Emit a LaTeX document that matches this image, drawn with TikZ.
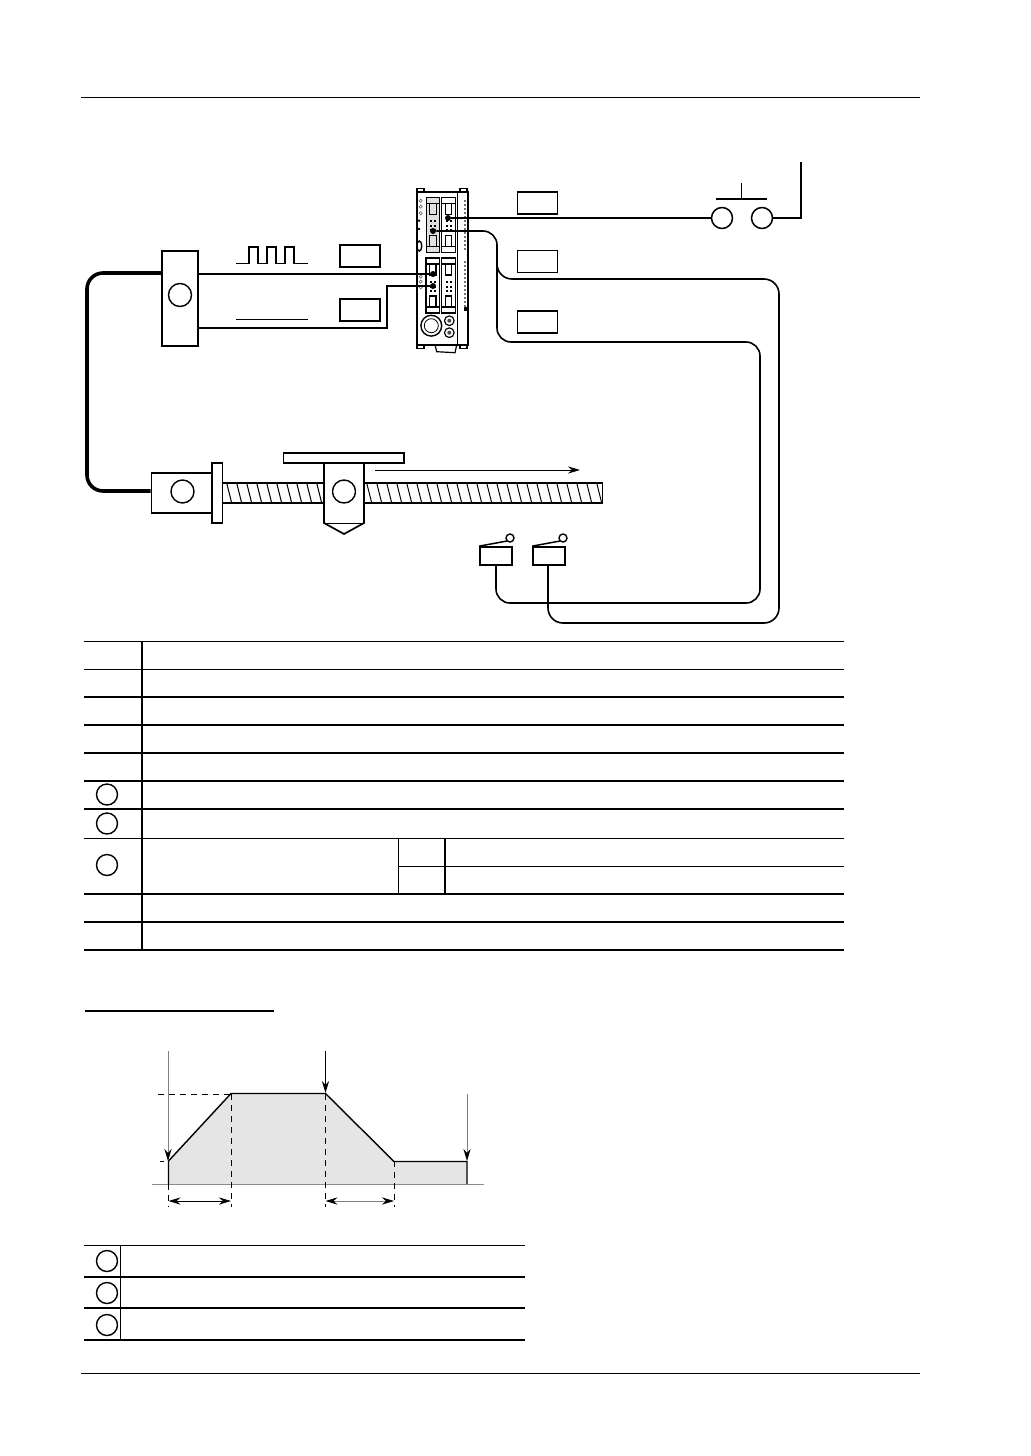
\documentclass[tikz,border=0pt]{standalone}
\usetikzlibrary{arrows.meta}
\tikzset{
  wire/.style={line width=.8pt,rounded corners=7pt},
  cable/.style={line width=1.8pt,rounded corners=8pt},
  sigline/.style={line width=.8pt},
  mark circle/.style={circle,draw,line width=.7pt,minimum size=11.5pt,inner sep=0pt},
  tag box/.style={draw,line width=.85pt,fill=white,minimum width=20pt,minimum height=11pt,inner sep=0pt},
  part box/.style={draw,line width=.85pt,fill=white,inner sep=0pt},
  port dot/.style={circle,fill,inner sep=0pt,minimum size=3pt},
  thinrule/.style={line width=.5pt},
  thickrule/.style={line width=1pt},
  darrow/.style={-{Stealth[length=6pt,width=3.6pt]},line width=.5pt},
  garrow/.style={-{Stealth[length=6pt,width=3.6pt,black]},line width=.5pt,black!50},
}
\begin{document}
\begin{tikzpicture}[x=0.5pt,y=-0.5pt]
\useasboundingbox (0,0) rectangle (1030,1456);

% page rules
\draw[thinrule] (81,97)--(920,97);
\draw[thinrule] (81,1373)--(920,1373);

% plc unit
\draw[line width=.6pt,fill=white] (417,192) rectangle (468,345);
\draw[line width=.5pt] (457,192)--(457,345);
\foreach \x in {417,460} {
  \draw[line width=.6pt] (\x,188.5) rectangle (\x+7,192);
  \draw[line width=.6pt] (\x,345) rectangle (\x+7,348.5);
}
\draw[line width=.6pt] (435,345)--(436.7,351.7)--(455,352.7)--(456.7,345);
\foreach \y in {200.7,206.7,213.3,276.7,281.7,287.3} \draw[line width=.3pt,black!60] (420.7,\y) circle (1.6);
\fill (419,220.7) circle (1.3);
\fill (419,229) circle (1.3);
\draw[line width=.7pt] (419.3,246) ellipse (2.5 and 5);
\fill[black!12] (426,197.3) rectangle (440,252.7);
\foreach \x/\yA/\yB/\w in {426/197.3/252.7/.35,441.7/197.3/252.7/.65,426/258/313/.65,441.7/258/313/.65} {
  \draw[line width=\w pt] (\x,\yA) rectangle (\x+13.5,\yB);
  \draw[line width=\w pt] (\x,\yA+6)--(\x+13.5,\yA+6);
  \draw[line width=\w pt] (\x+3.5,\yA+6)--(\x+3.5,\yA+17)--(\x+10,\yA+17)--(\x+10,\yA+6);
  \draw[line width=\w pt] (\x,\yB-6)--(\x+13.5,\yB-6);
  \draw[line width=\w pt] (\x+3.5,\yB-6)--(\x+3.5,\yB-17)--(\x+10,\yB-17)--(\x+10,\yB-6);
  \foreach \k in {0,1,2} {
    \fill (\x+4,\yA+23+4.5*\k) rectangle (\x+6,\yA+25+4.5*\k);
    \fill (\x+8,\yA+23+4.5*\k) rectangle (\x+10,\yA+25+4.5*\k);
  }
}
\foreach \y in {199.5,203.5,...,248} \fill[black!55] (463.5,\y) rectangle (465.8,\y+2.6);
\foreach \y in {260.5,264.5,...,307} \fill[black!55] (463.5,\y) rectangle (465.8,\y+2.6);
\fill (463.5,307) rectangle (466.5,311);
\draw[line width=.7pt] (431.3,325.7) circle (10.4);
\draw[line width=.4pt] (431.3,325.7) circle (7);
\foreach \y in {320.7,332.7} {
  \draw[line width=.6pt] (449.3,\y) circle (4.8);
  \fill[black!70] (449.3,\y) circle (2);
}
\node[port dot] (portOut) at (448,218) {};
\node[port dot] (portIn) at (433,231) {};
\node[port dot] (portPulse) at (433,274) {};
\node[port dot] (portDir) at (433,286) {};

% driver, motor and feed screw
\node[part box,minimum width=18pt,minimum height=47.5pt] (driver) at (180,298.5) {};
\node[mark circle] (driverMark) at (180,295) {};
\node[part box,minimum width=30.5pt,minimum height=20pt] (motor) at (182,493) {};
\node[mark circle] (motorMark) at (182.5,491.5) {};
\foreach \x in {0,...,37}
  \draw[line width=.5pt] (226.7+10*\x,483)--(231.7+10*\x,503);
\draw[line width=.85pt] (222,483) rectangle (602.5,503);
\node[part box,minimum width=5.25pt,minimum height=30pt] (flange) at (217.2,493) {};
\node[part box,minimum width=60.25pt,minimum height=5pt] (stage) at (343.8,458) {};
\draw[line width=.85pt,fill=white] (324,463)--(324,523)--(344,534)--(364,523)--(364,463)--cycle;
\draw[line width=.5pt] (324,523)--(364,523);
\node[mark circle] (stageMark) at (344,491.5) {};
\draw[darrow] (375,470)--(580,470);

% thick cable driver to motor
\coordinate (cableA) at (driver.west |- 0,273);
\coordinate (cableB) at (motor.west |- 0,491);
\draw[cable] (cableA)--(87,273)--(87,491)--(cableB);

% pulse signals
\draw[sigline] (driver.east |- portPulse)--(portPulse);
\draw[sigline] (driver.east |- 0,328)--(387,328)--(387,286)--(portDir);
\draw[line width=.55pt] (236,263.3)--(249,263.3)--(249,247)--(258,247)--(258,263.3)--(267,263.3)--(267,247)
  --(276,247)--(276,263.3)--(285,263.3)--(285,247)--(294,247)--(294,263.3)--(308,263.3);
\draw[line width=.55pt] (236,319.3)--(308,319.3);
\node[tag box] (tagPulse) at (360.2,255.7) {};
\node[tag box] (tagDir) at (360.2,310.3) {};

% start switch
\node[tag box] (tagStart) at (537.5,203) {};
\node[tag box] (tagUp) at (537.5,261.5) {};
\node[tag box] (tagDown) at (537.5,322) {};
\node[circle,draw,line width=.75pt,minimum size=10.5pt,inner sep=0pt] (contactA) at (722,218) {};
\node[circle,draw,line width=.75pt,minimum size=10.5pt,inner sep=0pt] (contactB) at (762,218) {};
\coordinate (supply) at (801,162);
\coordinate (btnTop) at (741.5,183);
\coordinate (btnBar) at (741.5,199);
\draw[sigline] (portOut)--(contactA);
\draw[sigline] (contactB)--(801,218)--(supply);
\draw[line width=.75pt] (716,199)--(767,199);
\draw[line width=.75pt] (btnTop)--(btnBar);

% limit switches and wiring
\node[part box,minimum width=16pt,minimum height=9pt] (limA) at (496,556) {};
\node[part box,minimum width=16pt,minimum height=9pt] (limB) at (549,556) {};
\foreach \n/\x in {limA/480,limB/533} {
  \draw[line width=.75pt] (\n.north west)--(\x+27,541);
  \draw[line width=.7pt] (\x+30,538) circle (4);
}
\draw[wire] (portIn)--(497,231)--(497,342)--(760,342)--(760,603)--(496,603)--(limA.south);
\draw[wire] (497,262)[rounded corners=7.5pt]--(497,279)--(779,279)--(779,623)--(548,623)--(limB.south -| 548,0);

% parts table
\foreach \y in {641.5,669,838} \draw[thinrule] (84,\y)--(844,\y);
\foreach \y in {697,725,753,781,809,894,922,950} \draw[thickrule] (84,\y)--(844,\y);
\draw[thickrule] (142,641)--(142,950);
\draw[thinrule] (398.5,838)--(398.5,894);
\draw[thickrule] (445,838)--(445,894);
\draw[thinrule] (398.5,866)--(844,866);
\node[mark circle,minimum size=10.5pt] (rowA) at (107,794.5) {};
\node[mark circle,minimum size=10.5pt] (rowB) at (107,823.5) {};
\node[mark circle,minimum size=10.5pt] (rowC) at (107,865) {};

% heading rule
\draw[line width=.75pt] (85,1011)--(274,1011);

% speed profile
\fill[black!10] (168.5,1184)--(168.5,1161)--(231,1093.5)--(325.5,1093.5)--(394,1161.5)--(467,1161.5)--(467,1184)--cycle;
\draw[line width=.5pt,black!45] (152,1184)--(484,1184);
\draw[line width=.7pt] (168.5,1184)--(168.5,1161)--(231,1093.5)--(325.5,1093.5)--(394,1161.5)--(467,1161.5)--(467,1184);
\draw[line width=.45pt,dash pattern=on 3pt off 2.5pt] (158,1094)--(231,1094);
\draw[line width=.45pt,dash pattern=on 2pt off 2pt] (160,1161)--(168,1161);
\foreach \x/\y in {231/1094,325.5/1094,394/1161,168.5/1184}
  \draw[line width=.45pt,dash pattern=on 3pt off 2.5pt] (\x,\y)--(\x,1207);
\draw[garrow] (168,1051)--(168,1161);
\draw[darrow] (325.5,1051)--(325.5,1093);
\draw[garrow] (467,1094)--(467,1161);
\draw[line width=.5pt,{Stealth[length=6pt,width=3.6pt]}-{Stealth[length=6pt,width=3.6pt]}] (168.5,1201)--(231,1201);
\draw[line width=.5pt,black!50,{Stealth[length=6pt,width=3.6pt,black]}-{Stealth[length=6pt,width=3.6pt,black]}] (325.5,1201)--(394,1201);

% key table
\draw[thinrule] (84,1245.5)--(525,1245.5);
\foreach \y in {1277,1308,1340} \draw[thickrule] (84,\y)--(525,\y);
\draw[thinrule] (120,1245.5)--(120,1340);
\node[mark circle,minimum size=10.5pt] (keyA) at (107,1261) {};
\node[mark circle,minimum size=10.5pt] (keyB) at (107,1293) {};
\node[mark circle,minimum size=10.5pt] (keyC) at (107,1325) {};
\end{tikzpicture}
\end{document}
